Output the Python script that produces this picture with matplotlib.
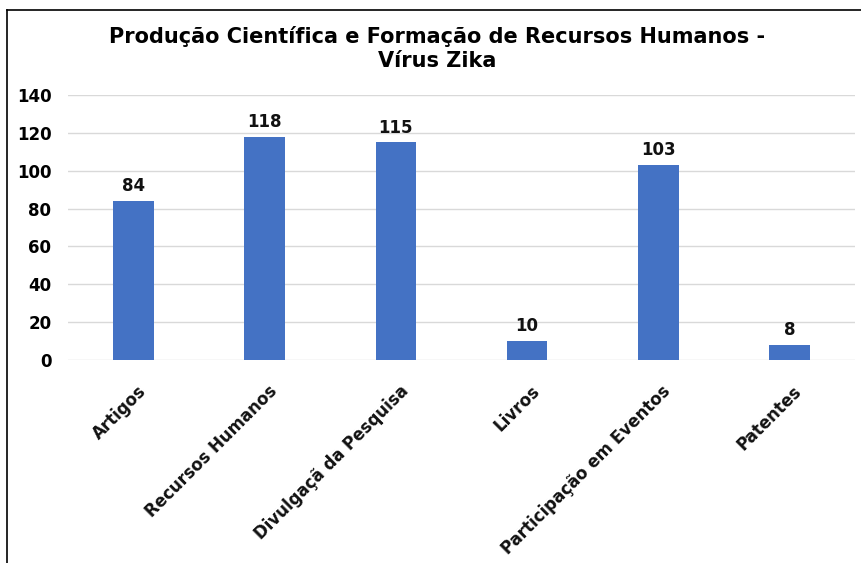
import matplotlib.pyplot as plt
from matplotlib.lines import Line2D
from matplotlib.transforms import ScaledTranslation, blended_transform_factory

categorias = ['Artigos', 'Recursos Humanos', 'Divulgaçã da Pesquisa', 'Livros',
              'Participação em Eventos', 'Patentes']
valores = [84, 118, 115, 10, 103, 8]
yticks = [0, 20, 40, 60, 80, 100, 120, 140]

plt.rcParams['font.family'] = ['DejaVu Sans']

fig = plt.figure(figsize=(8.61, 5.63), dpi=100)
ax = fig.add_axes([0.079, 0.3606, 0.914, 0.4707])

x = list(range(len(categorias)))
bars = ax.bar(x, valores, width=0.31, color='#4472C4', zorder=3)

for b, v in zip(bars, valores):
    ax.text(b.get_x() + b.get_width() / 2, v + 3, str(v), ha='center', va='bottom',
            fontsize=12, fontweight='bold', color='#111111')

ax.set_xlim(-0.5, len(categorias) - 0.5)
ax.set_ylim(0, 140)
ax.set_yticks(yticks)
ax.set_yticklabels([str(t) for t in yticks], fontsize=12, fontweight='bold')
ax.set_xticks(x)
ax.set_xticklabels([])
ax.tick_params(axis='both', length=0)
ax.tick_params(axis='y', pad=12)
ax.grid(axis='y', color='#d9d9d9', linewidth=1, zorder=0)
for s in ax.spines.values():
    s.set_visible(False)

# rótulos inclinados das categorias, canto superior direito junto a cada barra
trans = blended_transform_factory(ax.transData, ax.transAxes) + \
    ScaledTranslation(16 / 100, -22 / 100, fig.dpi_scale_trans)
for i, nome in zip(x, categorias):
    ax.text(i, 0, nome, transform=trans, rotation=45, ha='right', va='top',
            fontsize=12, fontweight='bold', color='#111111')

fig.text(0.5075, 0.914, 'Produção Científica e Formação de Recursos Humanos -\nVírus Zika',
         ha='center', va='center', fontsize=15, fontweight='bold', linespacing=1.3)

# moldura
fig.add_artist(Line2D([0.008, 0.008], [0, 0.982], color='black', linewidth=1.2))
fig.add_artist(Line2D([0.008, 1.0], [0.982, 0.982], color='black', linewidth=1.2))

fig.savefig('out.png', dpi=100)
